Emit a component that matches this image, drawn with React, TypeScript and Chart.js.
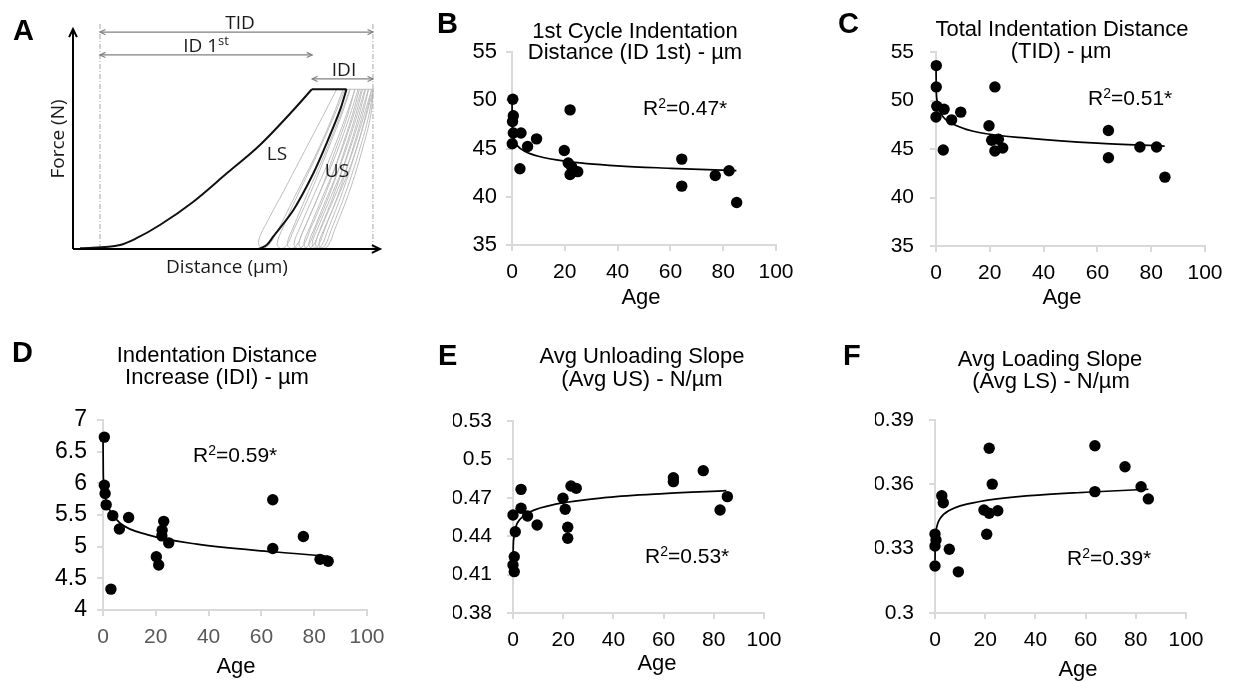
import React, { useEffect, useRef } from "react";
import { Chart, registerables } from "chart.js";

Chart.register(...registerables);

const FONT = "'Liberation Sans', Arial, Helvetica, sans-serif";
const FONT_A = "'Open Sans', 'DejaVu Sans', sans-serif";

// ---------------- Panel A : schematic (arbitrary units) ----------------
const A_AXIS_Y = [[0, 0], [0, 100]];
const A_AXIS_X = [[0, 0], [100, 0]];
const A_GUIDE_LEFT = [[8.8, 0], [8.8, 102.7]];
const A_GUIDE_RIGHT = [[97.7, 0], [97.7, 102.7]];
const A_TID = [[8.8, 98.6], [97.7, 98.6]];
const A_ID1 = [[8.8, 88.2], [77.9, 88.2]];
const A_IDI = [[77.9, 77.3], [97.7, 77.3]];
const A_LOAD = [[2.3, 0.3], [15.3, 1.8], [20.7, 4.9], [28.3, 10.9], [39.2, 21.5], [50.1, 34.4], [60.9, 47.3], [71.8, 63.2], [77.8, 72.6]];
const A_HOLD = [[77.8, 72.6], [89.1, 72.6]];
const A_UNLOAD = [[89.1, 72.6], [87.0, 63.2], [82.6, 48.0], [78.3, 34.4], [71.8, 17.7], [65.2, 5.6], [63.1, 1.8], [60.4, 0]];
const A_GRAY_HOLD = [[89.1, 72.6], [97.8, 72.6]];
const A_LOOP_1 = [[85.9, 72.6], [80.5, 58], [74.5, 42], [68.5, 26], [63.5, 13], [60.5, 4], [61.2, 0.6], [63.5, 1.5], [66.5, 8], [73, 26], [79.5, 44], [84.5, 60], [88, 72.6]];
const A_LOOP_2 = [[88.6, 72.6], [84, 57], [78.5, 40], [73, 24], [68.5, 10], [66.5, 2.5], [67.5, 0.3], [69.5, 1.5], [72, 9], [77.5, 26], [83, 45], [87.5, 61], [90.3, 72.6]];
const A_LOOP_3 = [[90.2, 72.6], [86, 57], [81, 40], [76, 24], [71.8, 10], [69.8, 2.5], [70.8, 0.3], [72.8, 1.5], [75.2, 9], [80.5, 26], [85.5, 45], [89.5, 61], [91.8, 72.6]];
const A_LOOP_4 = [[91.9, 72.6], [88, 57], [83.3, 40], [78.3, 24], [74, 10], [72, 2.5], [73, 0.3], [75, 1.5], [77.3, 9], [82.5, 26], [87.3, 45], [91, 61], [93.3, 72.6]];
const A_LOOP_5 = [[92.9, 72.6], [89.3, 57], [84.8, 40], [79.9, 24], [75.6, 10], [73.6, 2.5], [74.6, 0.3], [76.6, 1.5], [78.9, 9], [83.9, 26], [88.5, 45], [92.1, 61], [94.3, 72.6]];
const A_LOOP_6 = [[94, 72.6], [90.5, 57], [86.2, 40], [81.4, 24], [77.2, 10], [75.2, 2.5], [76.2, 0.3], [78.2, 1.5], [80.5, 9], [85.3, 26], [89.8, 45], [93.2, 61], [95.3, 72.6]];
const A_LOOP_7 = [[95.1, 72.6], [91.7, 57], [87.6, 40], [82.9, 24], [78.8, 10], [76.8, 2.5], [77.8, 0.3], [79.8, 1.5], [82, 9], [86.7, 26], [91, 45], [94.3, 61], [96.3, 72.6]];
const A_LOOP_8 = [[96.2, 72.6], [92.9, 57], [88.8, 40], [84.1, 24], [79.9, 10], [77.9, 2.5], [78.9, 0.3], [80.9, 1.5], [83.1, 9], [87.8, 26], [92.2, 45], [95.4, 61], [97.3, 72.6]];
const A_LOOP_9 = [[97.3, 72.6], [94, 57], [90, 40], [85.3, 24], [81, 10], [79, 2.5], [80, 0.3], [82, 1.5], [84.2, 9], [88.9, 26], [93.3, 45], [96.4, 61], [97.8, 72.6]];
const A_LOOP_10 = [[97.8, 72.6], [94.8, 57], [91, 40], [86.4, 24], [82.1, 10], [80.1, 2.5], [81.1, 0.3], [83.1, 1.5], [85.3, 9], [90, 26], [94.2, 45], [97, 61], [97.8, 72.6]];
const A_LOOPS = [A_LOOP_1, A_LOOP_2, A_LOOP_3, A_LOOP_4, A_LOOP_5, A_LOOP_6, A_LOOP_7, A_LOOP_8, A_LOOP_9, A_LOOP_10];

// ---------------- Shared age axis ----------------
const AGE_TICKS = [0, 20, 40, 60, 80, 100];
const AGE_LABELS = ["0", "20", "40", "60", "80", "100"];

// ---------------- Panel B : ID 1st ----------------
const B_AGE = [0.3, 0.5, 0.2, 0.5, 3.4, 0.1, 5.9, 9.3, 3.0, 22.0, 19.8, 21.3, 22.6, 22.0, 24.9, 64.3, 64.3, 77.0, 82.2, 85.1];
const B_VAL = [50.1, 48.4, 47.8, 46.6, 46.6, 45.5, 45.2, 46.0, 42.9, 49.0, 44.8, 43.5, 43.1, 42.3, 42.6, 43.9, 41.1, 42.2, 42.7, 39.4];
const B_FIT_AGE = [0.02, 0.1, 0.5, 1, 2, 5, 10, 20, 40, 60, 85];
const B_FIT_VAL = [50.0, 47.5, 46.3, 45.8, 45.3, 44.7, 44.2, 43.7, 43.2, 42.95, 42.7];
const B_Y_TICKS = [35, 40, 45, 50, 55];
const B_Y_LABELS = ["35", "40", "45", "50", "55"];

// ---------------- Panel C : TID ----------------
const C_AGE = [0.1, 0.1, 0.3, 3.0, 0.0, 5.8, 9.2, 2.7, 21.9, 19.7, 20.7, 23.2, 21.9, 24.8, 64.1, 64.1, 75.8, 82.0, 85.1];
const C_VAL = [53.6, 51.4, 49.4, 49.1, 48.3, 48.0, 48.8, 44.9, 51.4, 47.4, 45.9, 46.0, 44.8, 45.1, 46.9, 44.1, 45.2, 45.2, 42.1];
const C_FIT_AGE = [0.02, 0.1, 0.3, 1, 2.7, 7.7, 16, 35, 60, 85];
const C_FIT_VAL = [53.3, 51.2, 50.2, 49.2, 48.3, 47.4, 46.7, 46.1, 45.6, 45.3];
const C_Y_TICKS = [35, 40, 45, 50, 55];
const C_Y_LABELS = ["35", "40", "45", "50", "55"];

// ---------------- Panel D : IDI ----------------
const D_AGE = [0.5, 0.5, 0.8, 1.2, 3.7, 6.2, 9.7, 3.0, 20.2, 21.1, 23.0, 22.4, 22.3, 24.9, 64.3, 64.3, 75.9, 82.2, 85.3];
const D_VAL = [6.73, 5.97, 5.84, 5.66, 5.49, 5.28, 5.46, 4.33, 4.84, 4.71, 5.40, 5.26, 5.17, 5.06, 5.74, 4.97, 5.16, 4.80, 4.77];
const D_FIT_AGE = [0.02, 0.1, 0.3, 1, 2.8, 6.5, 16.7, 35.6, 64, 85.3];
const D_FIT_VAL = [6.70, 6.20, 5.98, 5.75, 5.56, 5.37, 5.19, 5.04, 4.92, 4.85];
const D_Y_TICKS = [4, 4.5, 5, 5.5, 6, 6.5, 7];
const D_Y_LABELS = ["4", "4.5", "5", "5.5", "6", "6.5", "7"];

// ---------------- Panel E : Avg US ----------------
const E_AGE = [3.2, 3.2, 0.0, 5.8, 9.6, 0.9, 0.5, 0.0, 0.5, 19.9, 20.8, 21.8, 21.8, 23.1, 25.2, 63.9, 63.9, 75.8, 82.5, 85.4];
const E_VAL = [0.4766, 0.4618, 0.4566, 0.4558, 0.4488, 0.4435, 0.4240, 0.4175, 0.4123, 0.4696, 0.4610, 0.4470, 0.4384, 0.4792, 0.4774, 0.4857, 0.4826, 0.4912, 0.4605, 0.4709];
const E_FIT_AGE = [0.01, 0.1, 0.3, 1, 2.9, 6.9, 17.5, 37.5, 60, 85];
const E_FIT_VAL = [0.412, 0.431, 0.438, 0.4465, 0.4535, 0.4591, 0.4652, 0.4703, 0.4733, 0.4756];
const E_Y_TICKS = [0.38, 0.41, 0.44, 0.47, 0.5, 0.53];
const E_Y_LABELS = ["0.38", "0.41", "0.44", "0.47", "0.5", "0.53"];

// ---------------- Panel F : Avg LS ----------------
const F_AGE = [21.6, 22.8, 2.7, 3.3, 19.5, 21.6, 25.0, 20.6, 0.0, 0.4, 0.0, 5.7, 0.0, 9.3, 63.7, 63.7, 75.7, 82.1, 85.0];
const F_VAL = [0.3768, 0.3601, 0.3547, 0.3514, 0.3480, 0.3465, 0.3477, 0.3367, 0.3368, 0.3340, 0.3312, 0.3297, 0.3219, 0.3192, 0.3780, 0.3566, 0.3682, 0.3589, 0.3532];
const F_FIT_AGE = [0.01, 0.1, 0.3, 1, 2, 6, 17.9, 37.8, 60, 85];
const F_FIT_VAL = [0.3245, 0.333, 0.337, 0.3414, 0.344, 0.348, 0.352, 0.3547, 0.3563, 0.3577];
const F_Y_TICKS = [0.3, 0.33, 0.36, 0.39];
const F_Y_LABELS = ["0.3", "0.33", "0.36", "0.39"];

// ---------------- layout ----------------
const Y_AXIS_W = 60;
const X_AXIS_H = 35;
const AXIS_GRAY = "#d9d9d9";

const PANELS = [
  {
    id: "B", rect: { left: 410, top: 0, width: 410, height: 325 }, area: { left: 512, right: 776, top: 52, bottom: 245 },
    age: B_AGE, val: B_VAL, fitAge: B_FIT_AGE, fitVal: B_FIT_VAL, yMin: 35, yMax: 55, yTicks: B_Y_TICKS, yLabels: B_Y_LABELS,
    yPad: 9, yFont: 22, xColor: "#000", letter: { x: 437, y: 33 },
    title: [{ t: "1st Cycle Indentation", x: 635, y: 38 }, { t: "Distance (ID 1st) - µm", x: 635, y: 59 }],
    r2: { v: "0.47*", x: 643, y: 115 }, ageLabel: { x: 641, y: 304 },
  },
  {
    id: "C", rect: { left: 820, top: 0, width: 417, height: 325 }, area: { left: 936, right: 1205, top: 52, bottom: 246 },
    age: C_AGE, val: C_VAL, fitAge: C_FIT_AGE, fitVal: C_FIT_VAL, yMin: 35, yMax: 55, yTicks: C_Y_TICKS, yLabels: C_Y_LABELS,
    yPad: 16, yFont: 21, xColor: "#000", letter: { x: 838, y: 33 },
    title: [{ t: "Total Indentation Distance", x: 1062, y: 36 }, { t: "(TID) - µm", x: 1061, y: 58 }],
    r2: { v: "0.51*", x: 1088, y: 105 }, ageLabel: { x: 1062, y: 304 },
  },
  {
    id: "D", rect: { left: 0, top: 325, width: 410, height: 357 }, area: { left: 103, right: 367, top: 420, bottom: 610 },
    age: D_AGE, val: D_VAL, fitAge: D_FIT_AGE, fitVal: D_FIT_VAL, yMin: 4, yMax: 7, yTicks: D_Y_TICKS, yLabels: D_Y_LABELS,
    yPad: 10, yFont: 23, xColor: "#595959", letter: { x: 12, y: 362 },
    title: [{ t: "Indentation Distance", x: 217, y: 362 }, { t: "Increase (IDI) - µm", x: 217, y: 384 }],
    r2: { v: "0.59*", x: 193, y: 462 }, ageLabel: { x: 236, y: 673 },
  },
  {
    id: "E", rect: { left: 410, top: 325, width: 410, height: 357 }, area: { left: 513, right: 764, top: 421, bottom: 613 },
    age: E_AGE, val: E_VAL, fitAge: E_FIT_AGE, fitVal: E_FIT_VAL, yMin: 0.38, yMax: 0.53, yTicks: E_Y_TICKS, yLabels: E_Y_LABELS,
    yPad: 15, yFont: 21, xColor: "#000", letter: { x: 438, y: 365 },
    title: [{ t: "Avg Unloading Slope", x: 642, y: 363 }, { t: "(Avg US) - N/µm", x: 642, y: 386 }],
    r2: { v: "0.53*", x: 645, y: 563 }, ageLabel: { x: 657, y: 670 },
  },
  {
    id: "F", rect: { left: 820, top: 325, width: 417, height: 357 }, area: { left: 935, right: 1186, top: 420, bottom: 613 },
    age: F_AGE, val: F_VAL, fitAge: F_FIT_AGE, fitVal: F_FIT_VAL, yMin: 0.3, yMax: 0.39, yTicks: F_Y_TICKS, yLabels: F_Y_LABELS,
    yPad: 15, yFont: 21, xColor: "#000", letter: { x: 843, y: 365 },
    title: [{ t: "Avg Loading Slope", x: 1050, y: 366 }, { t: "(Avg LS) - N/µm", x: 1051, y: 388 }],
    r2: { v: "0.39*", x: 1067, y: 565 }, ageLabel: { x: 1078, y: 676 },
  },
];

const A_RECT = { left: 0, top: 0, width: 410, height: 325 };
const A_AREA = { left: 73, right: 380, top: 18, bottom: 249 };

function toXY(arr: number[][]) {
  return arr.map((p) => ({ x: p[0], y: p[1] }));
}
function zipXY(xs: number[], ys: number[]) {
  return xs.map((x, i) => ({ x, y: ys[i] }));
}

function text(ctx: any, s: string, x: number, y: number, font: string, color = "#000", align = "center") {
  ctx.save();
  ctx.font = font;
  ctx.fillStyle = color;
  ctx.textAlign = align;
  ctx.textBaseline = "alphabetic";
  ctx.fillText(s, x, y);
  ctx.restore();
}

function drawR2(ctx: any, x: number, y: number, value: string) {
  ctx.save();
  ctx.fillStyle = "#000";
  ctx.textAlign = "left";
  ctx.textBaseline = "alphabetic";
  ctx.font = `21px ${FONT}`;
  ctx.fillText("R", x, y);
  let cx = x + ctx.measureText("R").width;
  ctx.font = `14px ${FONT}`;
  ctx.fillText("2", cx, y - 7);
  cx += ctx.measureText("2").width;
  ctx.font = `21px ${FONT}`;
  ctx.fillText("=" + value, cx, y);
  ctx.restore();
}

function chevron(ctx: any, x: number, y: number, angle: number, len: number, color: string, lw: number) {
  ctx.save();
  ctx.strokeStyle = color;
  ctx.lineWidth = lw;
  ctx.beginPath();
  const a1 = angle + Math.PI - 0.45;
  const a2 = angle + Math.PI + 0.45;
  ctx.moveTo(x + len * Math.cos(a1), y + len * Math.sin(a1));
  ctx.lineTo(x, y);
  ctx.lineTo(x + len * Math.cos(a2), y + len * Math.sin(a2));
  ctx.stroke();
  ctx.restore();
}

function buildPanel(p: any) {
  const ox = p.rect.left;
  const oy = p.rect.top;
  const textPlugin = {
    id: "panelText" + p.id,
    afterDraw(chart: any) {
      const ctx = chart.ctx;
      text(ctx, p.id, p.letter.x - ox, p.letter.y - oy, `bold 29px ${FONT}`, "#000", "left");
      p.title.forEach((l: any) => text(ctx, l.t, l.x - ox, l.y - oy, `22px ${FONT}`));
      drawR2(ctx, p.r2.x - ox, p.r2.y - oy, p.r2.v);
      text(ctx, "Age", p.ageLabel.x - ox, p.ageLabel.y - oy, `22px ${FONT}`);
    },
  };
  return {
    type: "scatter",
    data: {
      datasets: [
        {
          data: zipXY(p.age, p.val),
          pointRadius: 5.7,
          pointBackgroundColor: "#000",
          pointBorderWidth: 0,
          backgroundColor: "#000",
          borderColor: "#000",
          showLine: false,
          clip: false,
        },
        {
          data: zipXY(p.fitAge, p.fitVal),
          showLine: true,
          pointRadius: 0,
          borderColor: "#000",
          borderWidth: 1.7,
          cubicInterpolationMode: "monotone",
          clip: false,
        },
      ],
    },
    options: {
      responsive: false,
      animation: false,
      events: [],
      layout: {
        padding: {
          left: p.area.left - p.rect.left - Y_AXIS_W,
          right: p.rect.left + p.rect.width - p.area.right,
          top: p.area.top - p.rect.top,
          bottom: p.rect.top + p.rect.height - p.area.bottom - X_AXIS_H,
        },
      },
      plugins: { legend: { display: false }, tooltip: { enabled: false }, title: { display: false } },
      scales: {
        x: {
          type: "linear",
          min: 0,
          max: 100,
          afterBuildTicks: (s: any) => {
            s.ticks = AGE_TICKS.map((v) => ({ value: v }));
          },
          afterFit: (s: any) => {
            s.height = X_AXIS_H;
          },
          ticks: {
            autoSkip: false,
            maxRotation: 0,
            callback: (_v: any, i: number) => AGE_LABELS[i],
            color: p.xColor,
            font: { family: FONT, size: 21 },
            padding: 9,
          },
          grid: { display: true, drawOnChartArea: false, drawTicks: true, tickLength: 6, color: AXIS_GRAY, lineWidth: 2 },
          border: { display: true, color: AXIS_GRAY, width: 2 },
        },
        y: {
          type: "linear",
          min: p.yMin,
          max: p.yMax,
          afterBuildTicks: (s: any) => {
            s.ticks = p.yTicks.map((v: number) => ({ value: v }));
          },
          afterFit: (s: any) => {
            s.width = Y_AXIS_W;
          },
          ticks: {
            autoSkip: false,
            callback: (_v: any, i: number) => p.yLabels[i],
            color: "#000",
            font: { family: FONT, size: p.yFont },
            padding: p.yPad,
          },
          grid: { display: true, drawOnChartArea: false, drawTicks: true, tickLength: 6, color: AXIS_GRAY, lineWidth: 2 },
          border: { display: true, color: AXIS_GRAY, width: 2 },
        },
      },
    },
    plugins: [textPlugin],
  };
}

function buildSchematic() {
  const ox = A_RECT.left;
  const oy = A_RECT.top;
  const line = (arr: number[][], color: string, width: number, extra: any = {}) => ({
    data: toXY(arr),
    showLine: true,
    pointRadius: 0,
    borderColor: color,
    borderWidth: width,
    clip: false,
    ...extra,
  });
  const plugin = {
    id: "schematicText",
    afterDraw(chart: any) {
      const ctx = chart.ctx;
      const sx = chart.scales.x;
      const sy = chart.scales.y;
      const px = (v: number) => sx.getPixelForValue(v);
      const py = (v: number) => sy.getPixelForValue(v);
      chevron(ctx, px(A_AXIS_Y[1][0]), py(A_AXIS_Y[1][1]), -Math.PI / 2, 9, "#000", 2);
      chevron(ctx, px(A_AXIS_X[1][0]), py(A_AXIS_X[1][1]), 0, 9, "#000", 2);
      [A_TID, A_ID1, A_IDI].forEach((a) => {
        chevron(ctx, px(a[0][0]), py(a[0][1]), Math.PI, 6, "#808080", 1.2);
        chevron(ctx, px(a[1][0]), py(a[1][1]), 0, 6, "#808080", 1.2);
      });
      const f = `19px ${FONT_A}`;
      const c = "#1a1a1a";
      text(ctx, "A", 13 - ox, 40 - oy, `bold 29px ${FONT}`, "#000", "left");
      text(ctx, "TID", 240 - ox, 29 - oy, f, c);
      ctx.save();
      ctx.font = f;
      const w1 = ctx.measureText("ID 1").width;
      ctx.font = `13px ${FONT_A}`;
      const w2 = ctx.measureText("st").width;
      ctx.restore();
      const sxl = 206 - (w1 + w2) / 2;
      text(ctx, "ID 1", sxl - ox, 52 - oy, f, c, "left");
      text(ctx, "st", sxl + w1 - ox, 45 - oy, `13px ${FONT_A}`, c, "left");
      text(ctx, "IDI", 344 - ox, 76 - oy, f, c);
      text(ctx, "LS", 277 - ox, 160 - oy, f, c);
      text(ctx, "US", 337 - ox, 177 - oy, f, c);
      text(ctx, "Distance (µm)", 227 - ox, 273 - oy, f, c);
      ctx.save();
      ctx.translate(64 - ox, 139 - oy);
      ctx.rotate(-Math.PI / 2);
      text(ctx, "Force (N)", 0, 0, f, c);
      ctx.restore();
    },
  };
  const datasets: any[] = [
    line(A_AXIS_Y, "#000", 2),
    line(A_AXIS_X, "#000", 2),
    line(A_LOAD, "#111", 2, { cubicInterpolationMode: "monotone" }),
    line(A_HOLD, "#111", 2),
    line(A_UNLOAD, "#111", 2, { tension: 0.3 }),
    line(A_TID, "#808080", 1.2),
    line(A_ID1, "#808080", 1.2),
    line(A_IDI, "#808080", 1.2),
    line(A_GUIDE_LEFT, "#a6a6a6", 1, { borderDash: [5, 2, 1, 2] }),
    line(A_GUIDE_RIGHT, "#a6a6a6", 1, { borderDash: [5, 2, 1, 2] }),
    line(A_GRAY_HOLD, "#bdbdbd", 1),
    ...A_LOOPS.map((l) => line(l, "#bdbdbd", 1, { tension: 0.4 })),
  ];
  return {
    type: "scatter",
    data: { datasets },
    options: {
      responsive: false,
      animation: false,
      events: [],
      layout: {
        padding: {
          left: A_AREA.left - A_RECT.left,
          right: A_RECT.left + A_RECT.width - A_AREA.right,
          top: A_AREA.top - A_RECT.top,
          bottom: A_RECT.top + A_RECT.height - A_AREA.bottom,
        },
      },
      plugins: { legend: { display: false }, tooltip: { enabled: false } },
      scales: {
        x: { type: "linear", min: 0, max: 100, display: false },
        y: { type: "linear", min: 0, max: 105, display: false },
      },
    },
    plugins: [plugin],
  };
}

function ChartCanvas({ rect, build }: { rect: any; build: () => any }) {
  const ref = useRef<HTMLCanvasElement | null>(null);
  useEffect(() => {
    if (!ref.current) return;
    const chart = new Chart(ref.current, build() as any);
    return () => chart.destroy();
  }, []);
  return (
    <canvas
      ref={ref}
      width={rect.width}
      height={rect.height}
      style={{ position: "absolute", left: rect.left, top: rect.top, width: rect.width, height: rect.height }}
    />
  );
}

export default function App() {
  return (
    <div style={{ position: "absolute", left: 0, top: 0, width: 1237, height: 682, background: "#fff", overflow: "hidden" }}>
      <ChartCanvas rect={A_RECT} build={buildSchematic} />
      {PANELS.map((p) => (
        <ChartCanvas key={p.id} rect={p.rect} build={() => buildPanel(p)} />
      ))}
    </div>
  );
}
